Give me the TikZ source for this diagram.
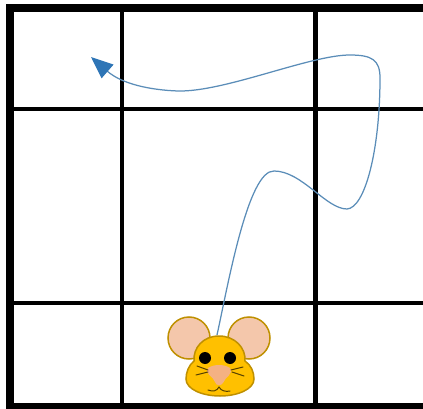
\documentclass[tikz,border=0pt]{standalone}
\usetikzlibrary{arrows.meta}
\definecolor{mouseyellow}{HTML}{FFC000}
\definecolor{mouseedge}{HTML}{BF9000}
\definecolor{mousepink}{HTML}{F4C7AB}
\definecolor{nosepink}{HTML}{F4B183}
\definecolor{routeblue}{HTML}{5B8DB8}
\definecolor{tipblue}{HTML}{2E75B6}
\begin{document}
\begin{tikzpicture}[
   x=1pt,y=-1pt,
   wall/.style={draw=black,line width=4.6pt},
   frame/.style={draw=black,line width=7.6pt},
   route/.style={draw=routeblue,line width=1.25pt,-{Triangle[length=22pt,width=18pt,color=tipblue]}},
   ear/.style={draw=mouseedge,fill=mousepink,line width=1.5pt},
   head/.style={draw=mouseedge,fill=mouseyellow,line width=1.5pt},
   whisker/.style={draw=black!55!mouseedge,line width=1pt,line cap=round}
 ]
  \useasboundingbox (0,0) rectangle (423,409);

  % The maze walls, open on the right.
  \draw[wall] (122,8) -- (122,406);
  \draw[wall] (315.5,8) -- (315.5,406);
  \draw[wall] (10,109) -- (423,109);
  \draw[wall] (10,303) -- (423,303);
  \draw[frame] (423,8) -- (10,8) -- (10,406.5) -- (423,406.5);

  % The way the mouse runs.
  \draw[route] (217,335) .. controls (228,285) and (248,170) .. (274,171)
    .. controls (302,171) and (326,209) .. (347,209)
    .. controls (365,208) and (380,150) .. (380,78)
    .. controls (380,60) and (372,55) .. (350,55)
    .. controls (310,55) and (225,92) .. (178,91)
    .. controls (150,90) and (122,84) .. (91,57);

  % The mouse.
  \draw[ear] (189,338) circle (21);
  \draw[ear] (249,338) circle (21);
  \draw[head] (219,336) .. controls (235,336) and (246,348) .. (245,361)
    .. controls (251,365) and (254,372) .. (254,379)
    .. controls (254,389) and (238,396) .. (220,396)
    .. controls (202,396) and (186,389) .. (186,379)
    .. controls (186,372) and (189,365) .. (194,361)
    .. controls (193,348) and (203,336) .. (219,336) -- cycle;
  \fill[black] (205,358) circle (6);
  \fill[black] (230,358) circle (6);
  \path[fill=nosepink] (208,368) .. controls (214,364) and (224,364) .. (230,368)
    .. controls (234,374) and (225,377) .. (223,383)
    .. controls (221,386) and (216,386) .. (215,382)
    .. controls (214,377) and (204,374) .. (208,368) -- cycle;
  \draw[whisker] (197,366) -- (208,370);
  \draw[whisker] (196,375) -- (208,372);
  \draw[whisker] (243,367) -- (231,370);
  \draw[whisker] (244,376) -- (232,372);
  \draw[whisker] (208,390) .. controls (213,392) and (217,391) .. (219,387)
    .. controls (221,391) and (226,392) .. (230,391);
 \end{tikzpicture}
\end{document}
